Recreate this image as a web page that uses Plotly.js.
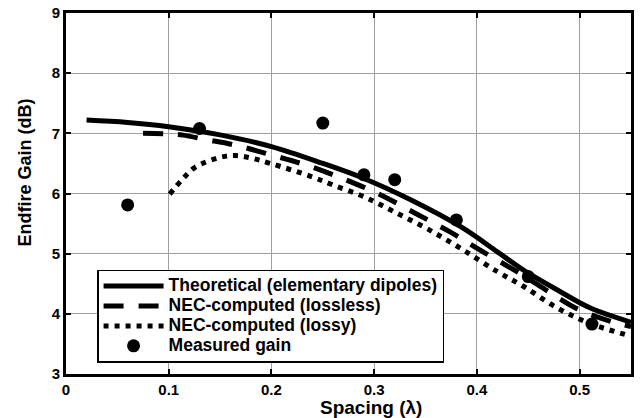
<!DOCTYPE html>
<html>
<head>
<meta charset="utf-8">
<script src="https://cdn.plot.ly/plotly-3.0.1.min.js"></script>
<style>html,body{margin:0;padding:0;background:#fff;}#chart{width:641px;height:418px;}</style>
</head>
<body>
<div id="chart"></div>
<script>
// Theoretical (elementary dipoles)
const theoX = [0.02, 0.06, 0.10, 0.15, 0.20, 0.25, 0.29, 0.335, 0.385, 0.42, 0.445, 0.48, 0.51, 0.55];
const theoY = [7.22, 7.18, 7.11, 6.975, 6.78, 6.50, 6.25, 5.90, 5.44, 5.03, 4.73, 4.38, 4.10, 3.86];
// NEC-computed (lossless)
const losslessX = [0.075, 0.10, 0.114, 0.135, 0.163, 0.20, 0.236, 0.272, 0.306, 0.339, 0.373, 0.404, 0.439, 0.467, 0.498, 0.533, 0.55];
const losslessY = [7.00, 6.99, 6.97, 6.90, 6.81, 6.64, 6.46, 6.23, 5.98, 5.68, 5.37, 5.05, 4.70, 4.40, 4.08, 3.86, 3.79];
// NEC-computed (lossy)
const lossyX = [0.101, 0.113, 0.126, 0.15, 0.165, 0.18, 0.199, 0.2375, 0.26, 0.2895, 0.319, 0.351, 0.384, 0.42, 0.446, 0.478, 0.51, 0.55];
const lossyY = [5.99, 6.23, 6.44, 6.60, 6.63, 6.59, 6.50, 6.29, 6.14, 5.95, 5.70, 5.42, 5.09, 4.70, 4.45, 4.10, 3.84, 3.63];
// Measured gain
const measX = [0.06, 0.13, 0.25, 0.29, 0.32, 0.38, 0.45, 0.512];
const measY = [5.81, 7.08, 7.17, 6.31, 6.23, 5.56, 4.62, 3.83];

const names = ["Theoretical (elementary dipoles)", "NEC-computed (lossless)", "NEC-computed (lossy)", "Measured gain"];
const xTitle = "Spacing (λ)";
const yTitle = "Endfire Gain (dB)";
const xTickVals = [0, 0.1, 0.2, 0.3, 0.4, 0.5];
const xTickText = ["0", "0.1", "0.2", "0.3", "0.4", "0.5"];

const FONT = "Liberation Sans, Arial, Helvetica, sans-serif";
const big = s => '<span style="font-size:17.5px">' + s + '</span>';

const traces = [
  {x: theoX, y: theoY, name: big(names[0]), mode: "lines", line: {color: "#000", width: 5, shape: "spline", smoothing: 1}},
  {x: losslessX, y: losslessY, name: big(names[1]), mode: "lines", line: {color: "#000", width: 5, dash: "20px,15px", shape: "spline", smoothing: 1}},
  {x: lossyX, y: lossyY, name: big(names[2]), mode: "lines", line: {color: "#000", width: 5, dash: "5px,6px", shape: "spline", smoothing: 1}},
  {x: measX, y: measY, name: big(names[3]), mode: "markers", marker: {color: "#000", size: 13, symbol: "circle"}}
];

const axisCommon = {
  showline: true, linecolor: "#000", linewidth: 3, mirror: "ticks",
  ticks: "inside", ticklen: 5, tickwidth: 2, tickcolor: "#000",
  showgrid: true, gridcolor: "#a0a0a0", gridwidth: 1,
  zeroline: false,
  tickfont: {family: FONT, size: 15, color: "#000", weight: "bold"}
};

const layout = {
  width: 641, height: 418,
  margin: {l: 66, r: 10, t: 13, b: 44},
  paper_bgcolor: "#fff", plot_bgcolor: "#fff",
  showlegend: true,
  xaxis: Object.assign({}, axisCommon, {range: [0, 0.55], tickvals: xTickVals, ticktext: xTickText}),
  yaxis: Object.assign({}, axisCommon, {range: [3, 9], dtick: 1, tick0: 3}),
  legend: {
    x: 0.055, y: 0.289, xanchor: "left", yanchor: "top",
    bgcolor: "#fff", bordercolor: "#000", borderwidth: 1.5,
    itemwidth: 60,
    font: {family: FONT, size: 13, color: "#000", weight: "bold"},
    tracegroupgap: 0
  },
  annotations: [
    {text: yTitle, xref: "paper", yref: "paper", x: -0.0726, y: 0.558, xanchor: "center", yanchor: "middle", textangle: -90, showarrow: false,
     font: {family: FONT, size: 18, color: "#000", weight: "bold"}},
    {text: xTitle, xref: "paper", yref: "paper", x: 0.54, y: -0.094, xanchor: "center", yanchor: "middle", showarrow: false,
     font: {family: FONT, size: 19, color: "#000", weight: "bold"}}
  ]
};

Plotly.newPlot("chart", traces, layout, {displayModeBar: false, staticPlot: true});
</script>
</body>
</html>
